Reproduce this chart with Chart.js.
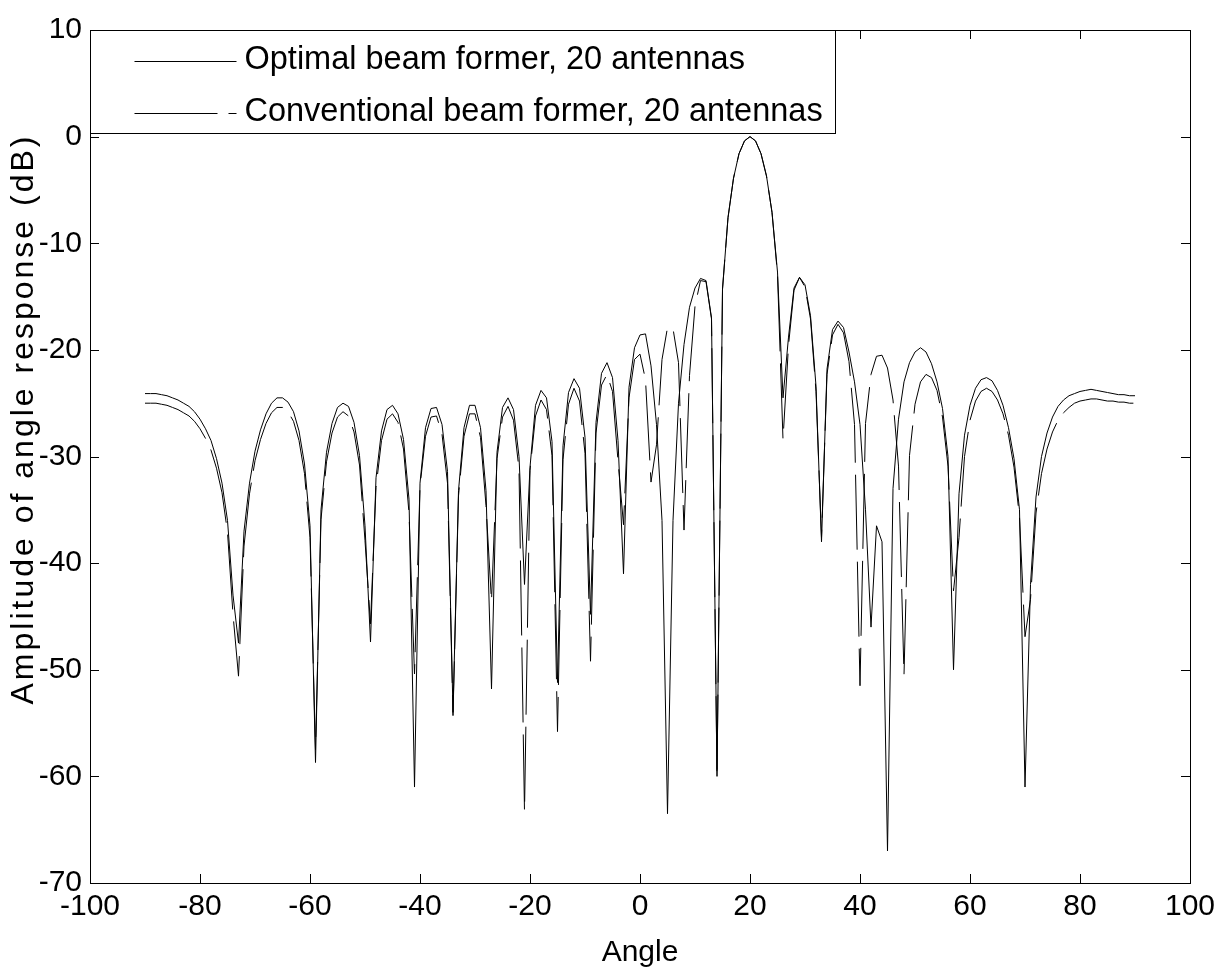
<!DOCTYPE html>
<html>
<head>
<meta charset="utf-8">
<script src="https://cdn.jsdelivr.net/npm/chart.js@4.4.1/dist/chart.umd.min.js"></script>
<style>
  html, body { margin: 0; padding: 0; background: #fff; }
  #wrap { width: 1227px; height: 968px; }
</style>
</head>
<body>
<div id="wrap"><canvas id="beamChart" width="1227" height="968"></canvas></div>
<script>
// ================================
// DATA
// ================================
const angles = [
  -90, -89, -88, -87, -86, -85, -84, -83, -82, -81, -80, -79, -78, -77, -76, -75, -74, -73, -72, -71,
  -70, -69, -68, -67, -66, -65, -64, -63, -62, -61, -60, -59, -58, -57, -56, -55, -54, -53, -52, -51,
  -50, -49, -48, -47, -46, -45, -44, -43, -42, -41, -40, -39, -38, -37, -36, -35, -34, -33, -32, -31,
  -30, -29, -28, -27, -26, -25, -24, -23, -22, -21, -20, -19, -18, -17, -16, -15, -14, -13, -12, -11,
  -10, -9, -8, -7, -6, -5, -4, -3, -2, -1, 0, 1, 2, 3, 4, 5, 6, 7, 8, 9,
  10, 11, 12, 13, 14, 15, 16, 17, 18, 19, 20, 21, 22, 23, 24, 25, 26, 27, 28, 29,
  30, 31, 32, 33, 34, 35, 36, 37, 38, 39, 40, 41, 42, 43, 44, 45, 46, 47, 48, 49,
  50, 51, 52, 53, 54, 55, 56, 57, 58, 59, 60, 61, 62, 63, 64, 65, 66, 67, 68, 69,
  70, 71, 72, 73, 74, 75, 76, 77, 78, 79, 80, 81, 82, 83, 84, 85, 86, 87, 88, 89, 90
];

// optimal beam former (solid)
const optimalDb = [
  -24.1, -24.1, -24.1, -24.2, -24.3, -24.5, -24.7, -25.0, -25.3, -25.8, -26.5, -27.4, -28.5, -30.2, -32.5, -36.0, -43.0, -47.5, -37.0, -32.5,
  -29.5, -27.5, -26.0, -25.0, -24.5, -24.5, -24.9, -25.8, -27.6, -30.7, -36.5, -58.7, -35.0, -29.6, -26.9, -25.4, -25.0, -25.3, -26.8, -29.9,
  -36.5, -47.4, -32.0, -27.6, -25.6, -25.2, -26.0, -28.4, -34.0, -61.0, -32.5, -27.3, -25.5, -25.4, -27.0, -31.4, -54.0, -33.2, -27.3, -25.2,
  -25.2, -27.3, -33.2, -51.8, -29.6, -25.4, -24.5, -25.6, -30.0, -42.0, -31.0, -25.2, -23.8, -24.5, -28.6, -51.2, -29.0, -24.0, -22.7, -23.6,
  -28.2, -44.8, -26.8, -22.2, -21.2, -22.6, -28.5, -41.0, -23.5, -19.8, -18.6, -18.5, -21.5, -27.0, -36.0, -63.5, -36.0, -25.0, -19.5, -16.0,
  -14.2, -13.3, -13.5, -17.0, -60.0, -14.3, -7.6, -3.9, -1.6, -0.4, 0.0, -0.4, -1.6, -3.7, -7.1, -12.7, -24.5, -18.8, -14.2, -13.2,
  -13.9, -16.8, -23.4, -38.0, -21.8, -18.1, -17.3, -17.9, -20.2, -23.0, -27.0, -35.0, -46.0, -36.5, -38.0, -67.0, -33.0, -26.5, -23.0, -21.2,
  -20.2, -19.8, -20.2, -21.3, -23.0, -25.5, -30.0, -50.0, -33.5, -28.0, -25.2, -23.6, -22.8, -22.6, -22.9, -23.8, -25.2, -27.3, -30.2, -35.0,
  -61.0, -42.0, -33.8, -30.0, -27.8, -26.3, -25.3, -24.7, -24.3, -24.1, -23.9, -23.8, -23.7, -23.8, -23.9, -24.0, -24.1, -24.2, -24.2, -24.3, -24.3
];

// conventional beam former (dashed)
const conventionalDb = [
  -25.0, -25.0, -25.0, -25.1, -25.2, -25.4, -25.6, -25.9, -26.2, -26.7, -27.4, -28.3, -29.4, -31.1, -33.4, -37.1, -44.8, -50.6, -38.4, -33.5,
  -30.4, -28.4, -26.9, -25.9, -25.4, -25.4, -25.8, -26.7, -28.5, -31.6, -37.6, -57.5, -35.9, -30.5, -27.8, -26.3, -25.8, -26.2, -27.7, -30.8,
  -37.9, -45.7, -32.9, -28.5, -26.5, -26.0, -26.8, -29.3, -35.3, -50.4, -32.8, -28.1, -26.3, -26.2, -27.9, -32.5, -54.3, -33.7, -28.1, -26.0,
  -26.0, -28.2, -34.6, -43.6, -30.2, -26.3, -25.3, -26.6, -31.2, -63.3, -31.3, -26.2, -24.7, -25.6, -29.9, -55.8, -30.3, -25.1, -23.6, -24.8,
  -29.7, -49.2, -27.8, -23.3, -22.3, -23.9, -30.4, -36.4, -24.5, -20.9, -20.4, -22.8, -32.4, -28.9, -20.9, -17.9, -18.0, -21.2, -36.9, -22.4,
  -15.9, -13.5, -13.6, -17.1, -60.0, -14.3, -7.6, -3.9, -1.6, -0.4, 0.0, -0.4, -1.6, -3.7, -7.1, -12.9, -28.4, -19.6, -14.4, -13.2,
  -14.1, -17.1, -23.9, -37.6, -22.3, -18.6, -17.6, -18.4, -21.1, -27.0, -51.5, -26.9, -22.3, -20.6, -20.5, -21.7, -24.7, -30.9, -50.5, -29.9,
  -25.1, -23.0, -22.3, -22.6, -23.8, -26.3, -30.9, -42.6, -37.6, -30.0, -26.6, -24.8, -23.9, -23.6, -23.9, -24.7, -26.0, -28.0, -31.0, -35.7,
  -46.9, -43.4, -35.3, -31.6, -29.3, -27.7, -26.6, -25.9, -25.4, -25.0, -24.8, -24.7, -24.6, -24.6, -24.7, -24.8, -24.8, -24.9, -24.9, -25.0, -25.0
];

const seriesNames = ["Optimal beam former, 20 antennas", "Conventional beam former, 20 antennas"];
const xTicks = [-100, -80, -60, -40, -20, 0, 20, 40, 60, 80, 100];
const yTicks = [-70, -60, -50, -40, -30, -20, -10, 0, 10];
const yTitle = "Amplitude of angle response (dB)";

// ================================
// STYLE
// ================================
const FONT = "'Liberation Sans', Arial, Helvetica, sans-serif";
const INK = "#000";
const DASH = [75, 12];

function toPoints(vals) {
  return angles.map((a, i) => ({ x: a, y: vals[i] }));
}

// box + inward ticks on all four sides, like the original figure
const frameTicks = {
  id: "frameTicks",
  afterDatasetsDraw(chart) {
    const { ctx, chartArea: ca, scales } = chart;
    const len = 9;
    ctx.save();
    ctx.strokeStyle = INK;
    ctx.lineWidth = 1;
    ctx.beginPath();
    xTicks.forEach(v => {
      const px = Math.round(scales.x.getPixelForValue(v)) + 0.5;
      ctx.moveTo(px, ca.bottom); ctx.lineTo(px, ca.bottom - len);
      ctx.moveTo(px, ca.top); ctx.lineTo(px, ca.top + len);
    });
    yTicks.forEach(v => {
      const py = Math.round(scales.y.getPixelForValue(v)) + 0.5;
      ctx.moveTo(ca.left, py); ctx.lineTo(ca.left + len, py);
      ctx.moveTo(ca.right, py); ctx.lineTo(ca.right - len, py);
    });
    ctx.stroke();
    ctx.strokeRect(Math.round(ca.left) + 0.5, Math.round(ca.top) + 0.5,
      Math.round(ca.right - ca.left), Math.round(ca.bottom - ca.top));

    // y axis title, a little wider spaced than the default
    ctx.translate(24, 419);
    ctx.rotate(-Math.PI / 2);
    ctx.fillStyle = INK;
    ctx.font = "32px " + FONT;
    if ("letterSpacing" in ctx) ctx.letterSpacing = "3px";
    ctx.textAlign = "center";
    ctx.textBaseline = "middle";
    ctx.fillText(yTitle, 0, 0);
    ctx.restore();
  }
};

// legend box in the upper left corner of the axes
const boxLegend = {
  id: "boxLegend",
  afterDraw(chart) {
    const { ctx, chartArea: ca } = chart;
    const x0 = Math.round(ca.left) + 0.5;
    const y0 = Math.round(ca.top) + 0.5;
    const w = 745, h = 103;
    ctx.save();
    ctx.fillStyle = "#fff";
    ctx.fillRect(x0, y0, w, h);
    ctx.strokeStyle = INK;
    ctx.lineWidth = 1;
    ctx.strokeRect(x0, y0, w, h);

    const rows = [y0 + 30, y0 + 82];
    chart.data.datasets.forEach((ds, i) => {
      const y = Math.round(rows[i]) + 0.5;
      ctx.beginPath();
      ctx.setLineDash(i === 1 ? [83, 11] : []);
      ctx.moveTo(x0 + 44, y);
      ctx.lineTo(x0 + 146, y);
      ctx.stroke();
      ctx.setLineDash([]);
      ctx.fillStyle = INK;
      ctx.font = "32.5px " + FONT;
      ctx.textBaseline = "middle";
      ctx.fillText(ds.label, x0 + 154, rows[i]);
    });
    ctx.restore();
  }
};

new Chart(document.getElementById("beamChart"), {
  type: "line",
  data: {
    datasets: [
      {
        label: seriesNames[0],
        data: toPoints(optimalDb),
        borderColor: INK,
        borderWidth: 1,
        pointRadius: 0,
        tension: 0
      },
      {
        label: seriesNames[1],
        data: toPoints(conventionalDb),
        borderColor: INK,
        borderWidth: 1,
        borderDash: DASH,
        pointRadius: 0,
        tension: 0
      }
    ]
  },
  options: {
    responsive: false,
    animation: false,
    devicePixelRatio: 1,
    layout: { padding: { top: 30, right: 37, left: 0, bottom: 0 } },
    plugins: {
      legend: { display: false },
      tooltip: { enabled: false }
    },
    scales: {
      x: {
        type: "linear",
        min: -100,
        max: 100,
        afterBuildTicks(s) { s.ticks = xTicks.map(v => ({ value: v })); },
        afterFit(s) { s.height = 85; },
        grid: { display: false, drawTicks: false },
        border: { display: false },
        ticks: { color: INK, font: { family: FONT, size: 30 }, padding: 6, maxRotation: 0 },
        title: { display: true, text: "Angle", color: INK, font: { family: FONT, size: 30, lineHeight: 1 }, padding: 0 }
      },
      y: {
        type: "linear",
        min: -70,
        max: 10,
        afterBuildTicks(s) { s.ticks = yTicks.map(v => ({ value: v })); },
        afterFit(s) { s.width = 90; },
        grid: { display: false, drawTicks: false },
        border: { display: false },
        ticks: { color: INK, font: { family: FONT, size: 30 }, padding: 8 },
        title: { display: false }
      }
    }
  },
  plugins: [frameTicks, boxLegend]
});
</script>
</body>
</html>
